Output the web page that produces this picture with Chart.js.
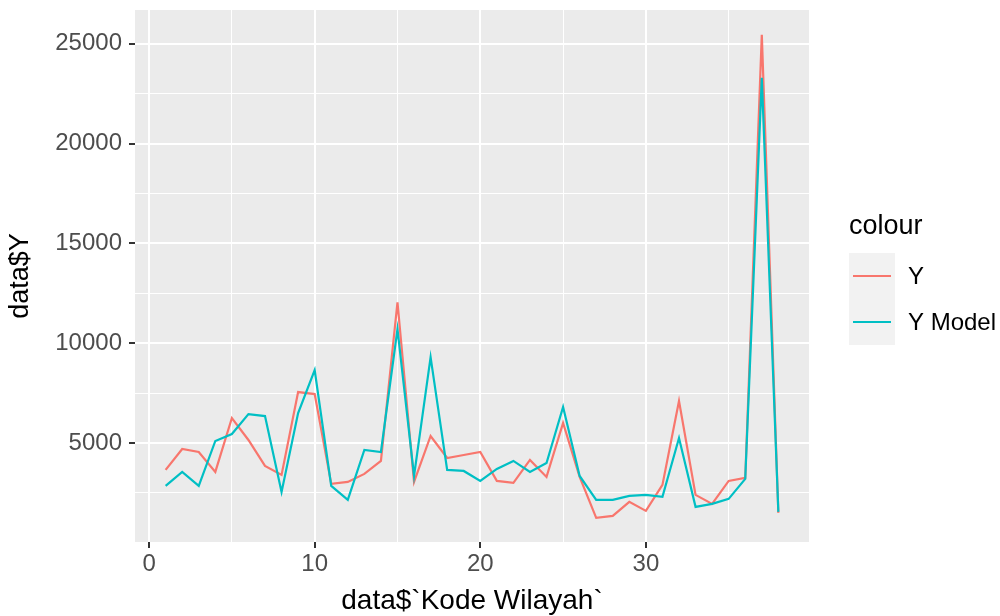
<!DOCTYPE html>
<html>
<head>
<meta charset="utf-8">
<script src="https://cdn.jsdelivr.net/npm/chart.js@4/dist/chart.umd.min.js"></script>
<style>
  html, body { margin: 0; padding: 0; background: #ffffff; }
  #wrap { width: 1000px; height: 616px; }
</style>
</head>
<body>
<div id="wrap"><canvas id="lineChart" width="1000" height="616"></canvas></div>
<script>
// Kode Wilayah 1..38
const kodeWilayah = [1, 2, 3, 4, 5, 6, 7, 8, 9, 10, 11, 12, 13, 14, 15, 16, 17, 18, 19,
  20, 21, 22, 23, 24, 25, 26, 27, 28, 29, 30, 31, 32, 33, 34, 35, 36, 37, 38];

// observed Y
const yActual = [3650, 4700, 4550, 3550, 6250, 5150, 3850, 3400, 7550, 7450,
  2950, 3050, 3450, 4100, 12050, 3050, 5350, 4250, 4400, 4550,
  3100, 3000, 4150, 3300, 6000, 3300, 1250, 1350, 2050, 1600,
  2900, 7100, 2400, 1950, 3100, 3250, 25450, 1500];

// fitted Y Model
const yModel = [2850, 3550, 2850, 5100, 5450, 6450, 6350, 2550, 6500, 8650,
  2850, 2150, 4650, 4550, 10700, 3350, 9300, 3650, 3600, 3100,
  3700, 4100, 3550, 4000, 6800, 3350, 2150, 2150, 2350, 2400,
  2300, 5250, 1800, 1950, 2200, 3200, 23300, 1550];

// tick positions (major labelled, minor only gridlines)
const xTicks = [0, 5, 10, 15, 20, 25, 30, 35];
const yTicks = [2500, 5000, 7500, 10000, 12500, 15000, 17500, 20000, 22500, 25000];

const seriesNames = ['Y', 'Y Model'];
const seriesColors = ['#F8766D', '#00BFC4'];

const FONT = '"Liberation Sans", Arial, Helvetica, sans-serif';

function toPoints(values) {
  return kodeWilayah.map((k, i) => ({ x: k, y: values[i] }));
}

// grey panel behind the plot
const panelBg = {
  id: 'panelBg',
  beforeDraw(chart) {
    const a = chart.chartArea;
    const ctx = chart.ctx;
    ctx.save();
    ctx.fillStyle = '#EBEBEB';
    ctx.fillRect(a.left, a.top, a.right - a.left, a.bottom - a.top);
    ctx.restore();
  }
};

// axis titles + ggplot style legend
const extras = {
  id: 'extras',
  afterDraw(chart) {
    const a = chart.chartArea;
    const ctx = chart.ctx;
    ctx.save();
    ctx.fillStyle = '#000000';
    ctx.textAlign = 'center';
    ctx.textBaseline = 'middle';
    ctx.font = '28px ' + FONT;
    ctx.fillText('data$`Kode Wilayah`', (a.left + a.right) / 2, 601);

    ctx.save();
    ctx.font = '27px ' + FONT;
    ctx.translate(21, (a.top + a.bottom) / 2);
    ctx.rotate(-Math.PI / 2);
    ctx.fillText('data$Y', 0, 0);
    ctx.restore();

    // legend
    ctx.textAlign = 'left';
    ctx.font = '27px ' + FONT;
    ctx.fillText('colour', 849, 227);
    ctx.fillStyle = '#F2F2F2';
    ctx.fillRect(849, 253, 46, 92);
    ctx.font = '24px ' + FONT;
    seriesNames.forEach((name, i) => {
      const cy = 276 + i * 46;
      ctx.strokeStyle = seriesColors[i];
      ctx.lineWidth = 2.2;
      ctx.beginPath();
      ctx.moveTo(853, cy);
      ctx.lineTo(891, cy);
      ctx.stroke();
      ctx.fillStyle = '#000000';
      ctx.fillText(name, 908, cy + 1);
    });
    ctx.restore();
  }
};

const ctx = document.getElementById('lineChart');
new Chart(ctx, {
  type: 'line',
  data: {
    datasets: [
      {
        label: seriesNames[0],
        data: toPoints(yActual),
        borderColor: seriesColors[0],
        borderWidth: 2.2,
        pointRadius: 0,
        tension: 0,
        order: 2
      },
      {
        label: seriesNames[1],
        data: toPoints(yModel),
        borderColor: seriesColors[1],
        borderWidth: 2.2,
        pointRadius: 0,
        tension: 0,
        order: 1
      }
    ]
  },
  options: {
    responsive: false,
    animation: false,
    devicePixelRatio: 1,
    layout: { padding: { left: 0, top: 10, right: 191, bottom: 0 } },
    plugins: {
      legend: { display: false },
      tooltip: { enabled: false }
    },
    scales: {
      x: {
        type: 'linear',
        min: -0.85,
        max: 39.85,
        afterFit(s) {
          s.height = 74;
          s.paddingLeft = 0;
          s.paddingRight = 0;
        },
        afterBuildTicks(s) { s.ticks = xTicks.map(v => ({ value: v })); },
        border: { display: false },
        grid: {
          color: c => '#FFFFFF',
          lineWidth: c => (c.tick && c.tick.value % 10 === 0) ? 2 : 1,
          tickColor: c => (c.tick && c.tick.value % 10 === 0) ? '#333333' : 'rgba(0,0,0,0)',
          tickLength: 6,
          drawTicks: true
        },
        ticks: {
          autoSkip: false,
          maxRotation: 0,
          padding: 2,
          color: '#4D4D4D',
          font: { family: FONT, size: 24 },
          callback: v => (v % 10 === 0 ? String(v) : '')
        }
      },
      y: {
        type: 'linear',
        min: 40,
        max: 26690,
        afterFit(s) {
          s.width = 135;
          s.paddingTop = 0;
          s.paddingBottom = 0;
        },
        afterBuildTicks(s) { s.ticks = yTicks.map(v => ({ value: v })); },
        border: { display: false },
        grid: {
          color: c => '#FFFFFF',
          lineWidth: c => (c.tick && c.tick.value % 5000 === 0) ? 2 : 1,
          tickColor: c => (c.tick && c.tick.value % 5000 === 0) ? '#333333' : 'rgba(0,0,0,0)',
          tickLength: 6,
          drawTicks: true
        },
        ticks: {
          autoSkip: false,
          padding: 7,
          color: '#4D4D4D',
          font: { family: FONT, size: 24 },
          callback: v => (v % 5000 === 0 ? String(v) : '')
        }
      }
    }
  },
  plugins: [panelBg, extras]
});
</script>
</body>
</html>
